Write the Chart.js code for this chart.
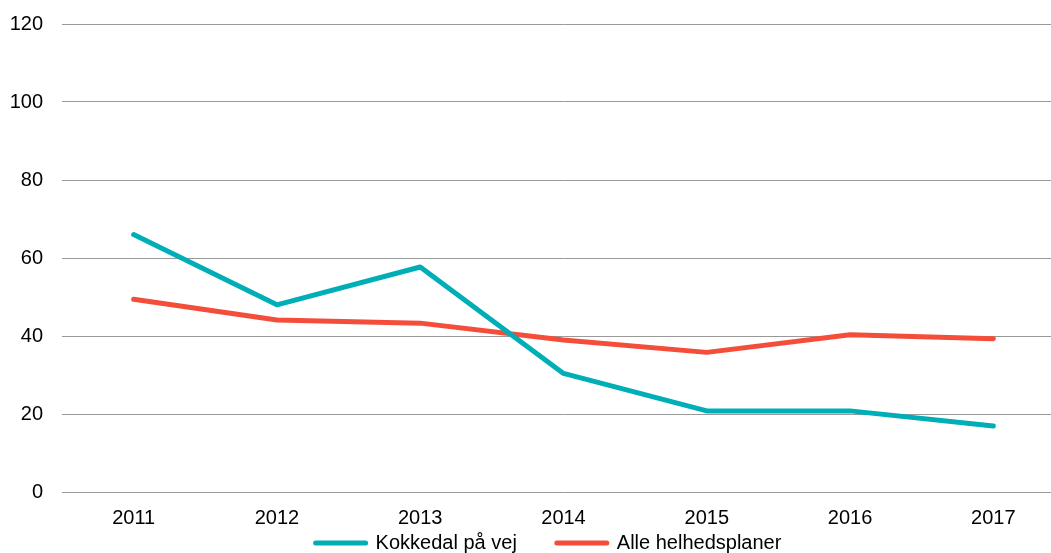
<!DOCTYPE html>
<html>
<head>
<meta charset="utf-8">
<script src="https://cdn.jsdelivr.net/npm/chart.js@4/dist/chart.umd.min.js"></script>
<style>
    html, body {
        margin: 0;
        padding: 0;
        overflow: hidden;
        background: #ffffff;
    }
    #wrap {
        width: 1065px;
        height: 553px;
    }
</style>
</head>
<body>
<div id="wrap">
    <canvas id="trendChart" width="1065" height="553"></canvas>
</div>
<script>
const years = ['2011', '2012', '2013', '2014', '2015', '2016', '2017'];
const kokkedalValues = [66, 48, 57.7, 30.4, 20.8, 20.8, 16.9];
const alleValues = [49.4, 44.1, 43.3, 39, 35.8, 40.3, 39.3];
const seriesNames = ['Kokkedal på vej', 'Alle helhedsplaner'];
const yTicks = [0, 20, 40, 60, 80, 100, 120];

const tealColor = '#00aeb8';
const redColor = '#f44e3b';
const fontFamily = "'Liberation Sans', Arial, sans-serif";

const lineDataset = (label, data, color) => ({
    label,
    data,
    borderColor: color,
    backgroundColor: color,
    borderWidth: 5,
    borderCapStyle: 'round',
    borderJoinStyle: 'round',
    pointRadius: 0,
    pointHoverRadius: 0,
    tension: 0,
    fill: false
});

// legend sits tight under the plot, overlapping the x label band like the original
const legendUnderPlot = {
    id: 'legendUnderPlot',
    afterLayout(chart) {
        const legend = chart.legend;
        if (!legend) return;
        legend.top = chart.chartArea.bottom + 1;
        legend.bottom = legend.top + legend.height;
        legend.left -= 15;
        legend.right -= 15;
    }
};

new Chart(document.getElementById('trendChart'), {
    type: 'line',
    data: {
        labels: years,
        datasets: [
            lineDataset(seriesNames[0], kokkedalValues, tealColor),
            lineDataset(seriesNames[1], alleValues, redColor)
        ]
    },
    plugins: [legendUnderPlot],
    options: {
        responsive: false,
        animation: false,
        layout: {
            padding: { top: 24, bottom: -59, left: 0, right: 0 }
        },
        plugins: {
            tooltip: { enabled: false },
            legend: {
                display: true,
                position: 'bottom',
                fullSize: false,
                labels: {
                    boxWidth: 50,
                    boxHeight: 0.1,
                    padding: 40,
                    color: '#000000',
                    font: { family: fontFamily, size: 20 }
                }
            }
        },
        scales: {
            x: {
                offset: true,
                grid: { display: false },
                border: { display: false },
                ticks: {
                    padding: 6,
                    maxRotation: 0,
                    color: '#000000',
                    font: { family: fontFamily, size: 20 }
                },
                afterFit: (scale) => {
                    scale.height = 50;
                    scale.paddingLeft = 0;
                    scale.paddingRight = 0;
                }
            },
            y: {
                min: yTicks[0],
                max: yTicks[yTicks.length - 1],
                grid: {
                    color: '#999999',
                    lineWidth: 1,
                    drawTicks: false
                },
                border: { display: false },
                ticks: {
                    stepSize: yTicks[1] - yTicks[0],
                    padding: 19,
                    color: '#000000',
                    font: { family: fontFamily, size: 20 }
                },
                afterFit: (scale) => {
                    scale.width = 62;
                    scale.paddingTop = 0;
                    scale.paddingBottom = 0;
                }
            }
        }
    }
});
</script>
</body>
</html>
